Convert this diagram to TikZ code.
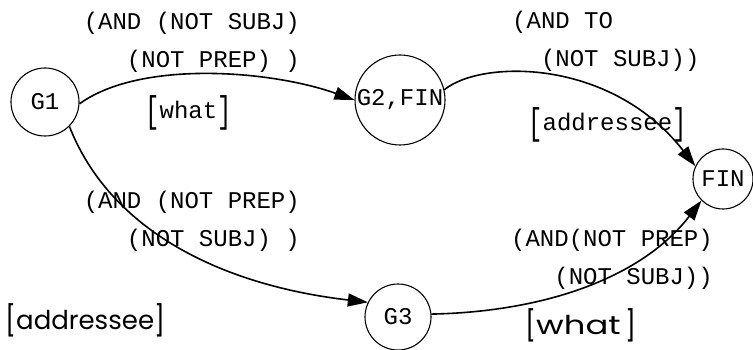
\documentclass[tikz,border=0pt]{standalone}
\usepackage{fontspec}
\usepackage{graphicx}
\setmonofont{Liberation Mono}
\newfontfamily\handfont{Poppins}
\usetikzlibrary{arrows.meta}
\newcommand\tallbr[1]{\raisebox{-0.35ex}{\scalebox{1}[1.55]{#1}}}
\newcommand\handbr[1]{\raisebox{-0.15ex}{\scalebox{1}[1.15]{#1}}}
\begin{document}
\begin{tikzpicture}[x=1pt,y=-1pt,
  state/.style={draw, circle, line width=1.1pt, inner sep=0pt, font=\ttfamily\fontsize{24}{24}\selectfont},
  edge/.style={line width=1.6pt, -{Triangle[length=20pt,width=13pt]}},
  lbl/.style={font=\ttfamily\fontsize{24}{38}\selectfont, inner sep=0pt},
  hw/.style={font=\handfont\fontsize{26}{26}\selectfont, inner sep=0pt}]
\useasboundingbox (0,0) rectangle (753,350);
\node[state, minimum size=68pt] (g1) at (45,102) {G1};
\node[state, minimum size=90pt] (g2) at (400,100) {G2,FIN};
\node[state, minimum size=60pt] (fin) at (723,179) {FIN};
\node[state, minimum size=66pt] (g3) at (398,317) {G3};
\draw[edge] (g1.-3) .. controls (140,60) and (270,70) .. (g2.180);
\draw[edge] (g1.-45) .. controls (110,230) and (220,285) .. (g3.154);
\draw[edge] (g2.13) .. controls (480,60) and (610,57) .. (fin.155);
\draw[edge] (g3.5) .. controls (540,312) and (640,280) .. (fin.225);
\node[lbl, align=right, anchor=east] (l1) at (300,42) {(AND (NOT SUBJ)\\(NOT PREP) )};
\node[lbl, align=left, anchor=west] (l2) at (512,41) {(AND TO\\\phantom{NN}(NOT SUBJ))};
\node[lbl, align=right, anchor=east] (l3) at (300,221) {(AND (NOT PREP)\\(NOT SUBJ) )};
\node[lbl, align=right, anchor=east] (l4) at (713,259) {(AND(NOT PREP)\\(NOT SUBJ))};
\node[lbl, anchor=west] (w1) at (145,113) {\tallbr{[}what\tallbr{]}};
\node[lbl, anchor=west] (a1) at (528,125) {\tallbr{[}addressee\tallbr{]}};
\node[hw, anchor=west] (a2) at (5,320) {\handbr{[}addressee\handbr{]}};
\node[hw, anchor=west] (w2) at (525,325) {\handbr{[}\scalebox{1.3}[1]{what}\,\handbr{]}};
\end{tikzpicture}
\end{document}
